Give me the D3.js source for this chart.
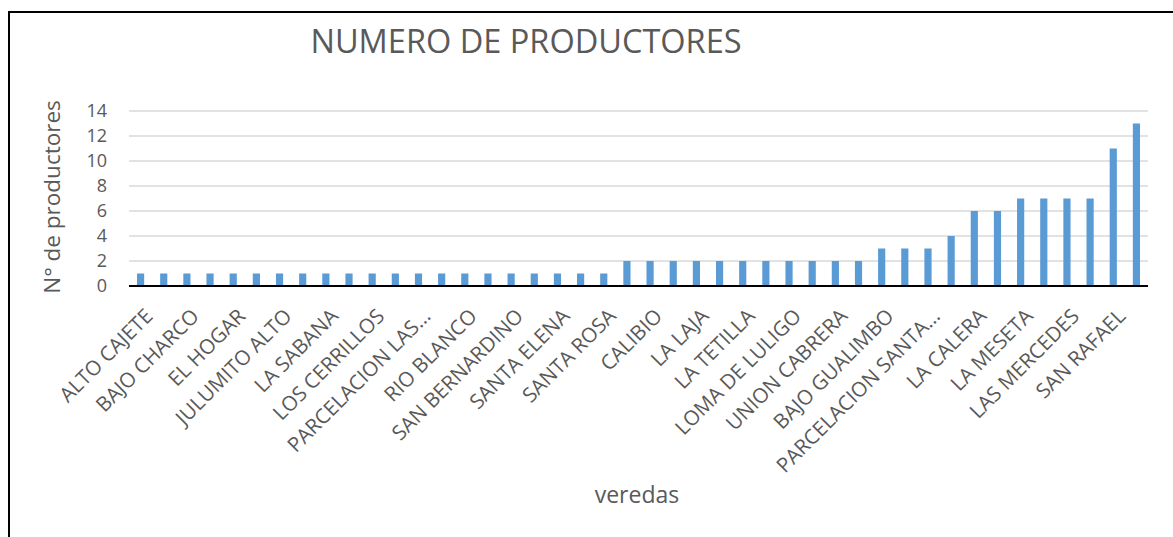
<!DOCTYPE html>
<html>
<head>
<meta charset="utf-8">
<script src="https://cdn.jsdelivr.net/npm/d3@7"></script>
<style>
  html, body { margin: 0; padding: 0; background: #ffffff; }
  svg { display: block; }
  text { font-family: "Open Sans", "Noto Sans", sans-serif; fill: #595959; }
</style>
</head>
<body>
<svg id="chart" width="1173" height="537"></svg>
<script>
// Category tick labels (Excel shows every other label; hidden ones are unreadable and left blank)
const categories = [
  "ALTO CAJETE", "", "BAJO CHARCO", "", "EL HOGAR", "", "JULUMITO ALTO", "",
  "LA SABANA", "", "LOS CERRILLOS", "", "PARCELACION LAS...", "", "RIO BLANCO", "",
  "SAN BERNARDINO", "", "SANTA ELENA", "", "SANTA ROSA", "", "CALIBIO", "",
  "LA LAJA", "", "LA TETILLA", "", "LOMA DE LULIGO", "", "UNION CABRERA", "",
  "BAJO GUALIMBO", "", "PARCELACION SANTA...", "", "LA CALERA", "", "LA MESETA", "",
  "LAS MERCEDES", "", "SAN RAFAEL", ""
];
const values = [
  1, 1, 1, 1, 1, 1, 1, 1, 1, 1, 1, 1, 1, 1, 1, 1, 1, 1, 1, 1, 1,
  2, 2, 2, 2, 2, 2, 2, 2, 2, 2, 2,
  3, 3, 3,
  4,
  6, 6,
  7, 7, 7, 7,
  11,
  13
];
const yTicks = [0, 2, 4, 6, 8, 10, 12, 14];
const chartTitle = "NUMERO DE PRODUCTORES";
const xTitle = "veredas";
const yTitle = "N° de productores";

const svg = d3.select("#chart");
const W = 1173, H = 537;
const plot = { left: 129, right: 1148, top: 111, bottom: 286 };

// chart frame
svg.append("path")
  .attr("d", `M9,${H + 2} L9,12 L${W + 2},12`)
  .attr("fill", "none").attr("stroke", "#000").attr("stroke-width", 2);

const idx = d3.range(values.length);
const x = d3.scaleBand().domain(idx).range([plot.left, plot.right]).paddingInner(0.69).paddingOuter(0.345);
const y = d3.scaleLinear().domain([0, 14]).range([plot.bottom, plot.top]);

// gridlines
svg.append("g").selectAll("line").data(yTicks.filter(d => d > 0)).join("line")
  .attr("x1", plot.left).attr("x2", plot.right)
  .attr("y1", d => y(d)).attr("y2", d => y(d))
  .attr("stroke", "#d9d9d9").attr("stroke-width", 1.5);

// y axis labels
const yAxis = d3.axisLeft(y).tickValues(yTicks).tickSize(0).tickPadding(22);
const gy = svg.append("g").attr("transform", `translate(${plot.left},0)`).call(yAxis);
gy.select(".domain").remove();
gy.selectAll("text").attr("font-size", 18).attr("fill", "#595959")
  .attr("font-family", '"Open Sans", sans-serif');

// bars
svg.append("g").selectAll("rect").data(values).join("rect")
  .attr("x", (d, i) => x(i))
  .attr("width", x.bandwidth())
  .attr("y", d => y(d))
  .attr("height", d => y(0) - y(d))
  .attr("fill", "#5b9bd5");

// x axis line
svg.append("line")
  .attr("x1", plot.left).attr("x2", plot.right)
  .attr("y1", plot.bottom).attr("y2", plot.bottom)
  .attr("stroke", "#000").attr("stroke-width", 2.2);

// x tick labels
const xAxis = d3.axisBottom(x).tickSize(0).tickFormat(i => categories[i]);
const gx = svg.append("g").attr("transform", `translate(0,${plot.bottom})`).call(xAxis);
gx.select(".domain").remove();
gx.selectAll("text")
  .attr("font-size", 20.5).attr("fill", "#595959")
  .attr("font-family", '"Open Sans", sans-serif')
  .attr("text-anchor", "end")
  .attr("transform", "translate(3,21) rotate(-45)")
  .attr("dy", "0.72em").attr("y", 0).attr("x", 0);

// titles
svg.append("text").attr("x", 526).attr("y", 53).attr("text-anchor", "middle")
  .attr("font-size", 32.5).text(chartTitle);
svg.append("text").attr("x", 637).attr("y", 503).attr("text-anchor", "middle")
  .attr("font-size", 23).text(xTitle);
svg.append("text").attr("transform", "translate(60,197) rotate(-90)").attr("text-anchor", "middle")
  .attr("font-size", 22.5).text(yTitle);
</script>
</body>
</html>
